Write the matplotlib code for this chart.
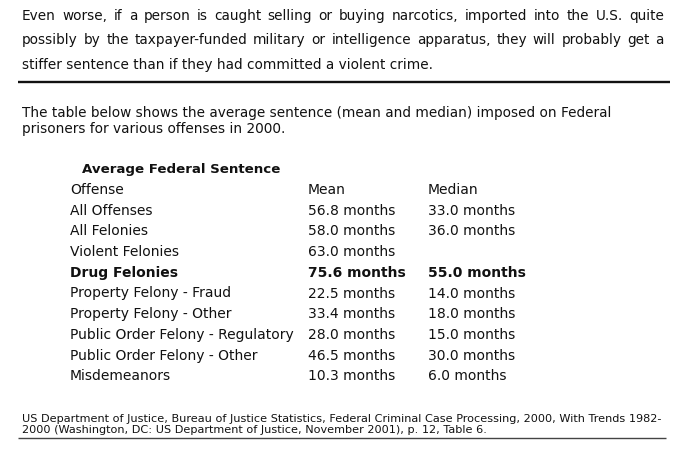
import matplotlib
matplotlib.use("Agg")
import matplotlib.pyplot as plt

# text of the page
intro_lines = [
    "Even worse, if a person is caught selling or buying narcotics, imported into the U.S. quite",
    "possibly by the taxpayer-funded military or intelligence apparatus, they will probably get a",
    "stiffer sentence than if they had committed a violent crime.",
]
lead_lines = [
    "The table below shows the average sentence (mean and median) imposed on Federal",
    "prisoners for various offenses in 2000.",
]
table_title = "Average Federal Sentence"
header = ["Offense", "Mean", "Median"]
offenses = ["All Offenses", "All Felonies", "Violent Felonies", "Drug Felonies",
            "Property Felony - Fraud", "Property Felony - Other",
            "Public Order Felony - Regulatory", "Public Order Felony - Other",
            "Misdemeanors"]
mean_months = [56.8, 58.0, 63.0, 75.6, 22.5, 33.4, 28.0, 46.5, 10.3]
median_months = [33.0, 36.0, None, 55.0, 14.0, 18.0, 15.0, 30.0, 6.0]
bold_row = "Drug Felonies"
source_lines = [
    "US Department of Justice, Bureau of Justice Statistics, Federal Criminal Case Processing, 2000, With Trends 1982-",
    "2000 (Washington, DC: US Department of Justice, November 2001), p. 12, Table 6.",
]

W, H = 689, 457
fig = plt.figure(figsize=(W / 100, H / 100), dpi=100)
ax = fig.add_axes([0, 0, 1, 1])
ax.set_xlim(0, W)
ax.set_ylim(H, 0)
ax.axis("off")
fig.canvas.draw()
renderer = fig.canvas.get_renderer()
ink = "#111111"
FONT = "DejaVu Sans"


def fit_size(s, target_px, weight="normal"):
    # font size (pt) so that string s is target_px wide
    t = ax.text(0, 0, s, fontsize=10, family=FONT, fontweight=weight)
    w = t.get_window_extent(renderer).width
    t.remove()
    return 10 * target_px / w


def justified(line, y, left, right, size):
    words = line.split(" ")
    objs = [ax.text(0, y, w, va="baseline", family=FONT, fontsize=size, color=ink)
            for w in words]
    widths = [o.get_window_extent(renderer).width for o in objs]
    gap = (right - left - sum(widths)) / (len(words) - 1)
    x = left
    for o, w in zip(objs, widths):
        o.set_x(x)
        x += w + gap


para_size = fit_size(lead_lines[0], 588)
tab_size = fit_size(offenses[6], 223)
title_size = fit_size(table_title, 198, "bold")
src_size = fit_size(source_lines[0], 638)

# first paragraph, justified except the last line
for i, line in enumerate(intro_lines):
    y = 20 + i * 24.3
    if i < len(intro_lines) - 1:
        justified(line, y, 22, 664, para_size)
    else:
        ax.text(22, y, line, va="baseline", family=FONT, fontsize=para_size, color=ink)

ax.plot([18, 670], [81.7, 81.7], color=ink, lw=1.7, solid_capstyle="butt")

for i, line in enumerate(lead_lines):
    ax.text(22, 116.7 + i * 16.6, line, va="baseline", family=FONT,
            fontsize=para_size, color=ink)

# table
col_x = [70, 308, 428]
ax.text(82, 173, table_title, va="baseline", fontweight="bold", family=FONT,
        fontsize=title_size, color=ink)
row0 = 194
step = 20.7
for x, h in zip(col_x, header):
    ax.text(x, row0, h, va="baseline", family=FONT, fontsize=tab_size, color=ink)
for r, (name, mn, md) in enumerate(zip(offenses, mean_months, median_months)):
    y = row0 + (r + 1) * step
    kw = dict(va="baseline", family=FONT, fontsize=tab_size, color=ink,
              fontweight="bold" if name == bold_row else "normal")
    ax.text(col_x[0], y, name, **kw)
    ax.text(col_x[1], y, f"{mn:.1f} months", **kw)
    if md is not None:
        ax.text(col_x[2], y, f"{md:.1f} months", **kw)

# source note
for i, line in enumerate(source_lines):
    ax.text(22, 421.7 + i * 11, line, va="baseline", family=FONT,
            fontsize=src_size, color=ink)
ax.plot([18, 666], [438.3, 438.3], color="#444444", lw=1.0, solid_capstyle="butt")

fig.savefig("out.png", dpi=100, facecolor="white")
